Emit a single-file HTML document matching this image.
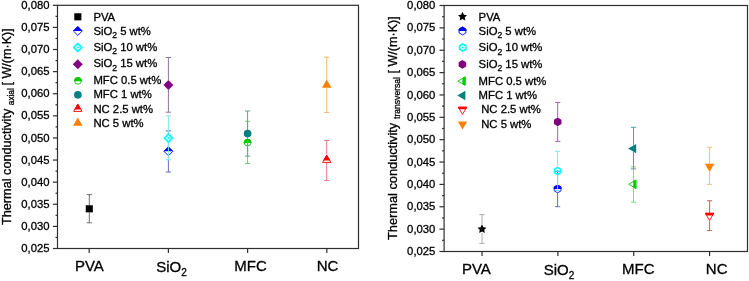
<!DOCTYPE html>
<html><head><meta charset="utf-8"><style>
html,body{margin:0;padding:0;background:#fff;}
svg{display:block;will-change:transform;filter:blur(0.35px);}
text{font-family:"Liberation Sans", sans-serif;fill:#000;stroke:#000;stroke-width:0.3px;}
</style></head><body>
<svg width="749" height="281" viewBox="0 0 749 281">
<rect width="749" height="281" fill="#fff"/>
<rect x="57.5" y="5.3" width="301.0" height="243.2" fill="none" stroke="#2e2e2e" stroke-width="1.2"/>
<line x1="52.9" y1="248.50" x2="57.5" y2="248.50" stroke="#2e2e2e" stroke-width="1.2"/>
<text x="49.6" y="252.10" text-anchor="end" font-size="11.6" textLength="28.3" lengthAdjust="spacingAndGlyphs">0,025</text>
<line x1="55.5" y1="237.45" x2="57.5" y2="237.45" stroke="#2e2e2e" stroke-width="1.2"/>
<line x1="52.9" y1="226.39" x2="57.5" y2="226.39" stroke="#2e2e2e" stroke-width="1.2"/>
<text x="49.6" y="229.99" text-anchor="end" font-size="11.6" textLength="28.3" lengthAdjust="spacingAndGlyphs">0,030</text>
<line x1="55.5" y1="215.34" x2="57.5" y2="215.34" stroke="#2e2e2e" stroke-width="1.2"/>
<line x1="52.9" y1="204.28" x2="57.5" y2="204.28" stroke="#2e2e2e" stroke-width="1.2"/>
<text x="49.6" y="207.88" text-anchor="end" font-size="11.6" textLength="28.3" lengthAdjust="spacingAndGlyphs">0,035</text>
<line x1="55.5" y1="193.23" x2="57.5" y2="193.23" stroke="#2e2e2e" stroke-width="1.2"/>
<line x1="52.9" y1="182.17" x2="57.5" y2="182.17" stroke="#2e2e2e" stroke-width="1.2"/>
<text x="49.6" y="185.77" text-anchor="end" font-size="11.6" textLength="28.3" lengthAdjust="spacingAndGlyphs">0,040</text>
<line x1="55.5" y1="171.12" x2="57.5" y2="171.12" stroke="#2e2e2e" stroke-width="1.2"/>
<line x1="52.9" y1="160.06" x2="57.5" y2="160.06" stroke="#2e2e2e" stroke-width="1.2"/>
<text x="49.6" y="163.66" text-anchor="end" font-size="11.6" textLength="28.3" lengthAdjust="spacingAndGlyphs">0,045</text>
<line x1="55.5" y1="149.01" x2="57.5" y2="149.01" stroke="#2e2e2e" stroke-width="1.2"/>
<line x1="52.9" y1="137.95" x2="57.5" y2="137.95" stroke="#2e2e2e" stroke-width="1.2"/>
<text x="49.6" y="141.55" text-anchor="end" font-size="11.6" textLength="28.3" lengthAdjust="spacingAndGlyphs">0,050</text>
<line x1="55.5" y1="126.90" x2="57.5" y2="126.90" stroke="#2e2e2e" stroke-width="1.2"/>
<line x1="52.9" y1="115.85" x2="57.5" y2="115.85" stroke="#2e2e2e" stroke-width="1.2"/>
<text x="49.6" y="119.45" text-anchor="end" font-size="11.6" textLength="28.3" lengthAdjust="spacingAndGlyphs">0,055</text>
<line x1="55.5" y1="104.79" x2="57.5" y2="104.79" stroke="#2e2e2e" stroke-width="1.2"/>
<line x1="52.9" y1="93.74" x2="57.5" y2="93.74" stroke="#2e2e2e" stroke-width="1.2"/>
<text x="49.6" y="97.34" text-anchor="end" font-size="11.6" textLength="28.3" lengthAdjust="spacingAndGlyphs">0,060</text>
<line x1="55.5" y1="82.68" x2="57.5" y2="82.68" stroke="#2e2e2e" stroke-width="1.2"/>
<line x1="52.9" y1="71.63" x2="57.5" y2="71.63" stroke="#2e2e2e" stroke-width="1.2"/>
<text x="49.6" y="75.23" text-anchor="end" font-size="11.6" textLength="28.3" lengthAdjust="spacingAndGlyphs">0,065</text>
<line x1="55.5" y1="60.57" x2="57.5" y2="60.57" stroke="#2e2e2e" stroke-width="1.2"/>
<line x1="52.9" y1="49.52" x2="57.5" y2="49.52" stroke="#2e2e2e" stroke-width="1.2"/>
<text x="49.6" y="53.12" text-anchor="end" font-size="11.6" textLength="28.3" lengthAdjust="spacingAndGlyphs">0,070</text>
<line x1="55.5" y1="38.46" x2="57.5" y2="38.46" stroke="#2e2e2e" stroke-width="1.2"/>
<line x1="52.9" y1="27.41" x2="57.5" y2="27.41" stroke="#2e2e2e" stroke-width="1.2"/>
<text x="49.6" y="31.01" text-anchor="end" font-size="11.6" textLength="28.3" lengthAdjust="spacingAndGlyphs">0,075</text>
<line x1="55.5" y1="16.35" x2="57.5" y2="16.35" stroke="#2e2e2e" stroke-width="1.2"/>
<line x1="52.9" y1="5.30" x2="57.5" y2="5.30" stroke="#2e2e2e" stroke-width="1.2"/>
<text x="49.6" y="8.90" text-anchor="end" font-size="11.6" textLength="28.3" lengthAdjust="spacingAndGlyphs">0,080</text>
<line x1="89.18" y1="248.5" x2="89.18" y2="253.1" stroke="#2e2e2e" stroke-width="1.2"/>
<line x1="168.39" y1="248.5" x2="168.39" y2="253.1" stroke="#2e2e2e" stroke-width="1.2"/>
<line x1="247.61" y1="248.5" x2="247.61" y2="253.1" stroke="#2e2e2e" stroke-width="1.2"/>
<line x1="326.82" y1="248.5" x2="326.82" y2="253.1" stroke="#2e2e2e" stroke-width="1.2"/>
<rect x="444.1" y="5.5" width="303.4" height="246.0" fill="none" stroke="#2e2e2e" stroke-width="1.2"/>
<line x1="439.5" y1="251.50" x2="444.1" y2="251.50" stroke="#2e2e2e" stroke-width="1.2"/>
<text x="435.4" y="255.10" text-anchor="end" font-size="11.6" textLength="28.3" lengthAdjust="spacingAndGlyphs">0,025</text>
<line x1="442.1" y1="240.32" x2="444.1" y2="240.32" stroke="#2e2e2e" stroke-width="1.2"/>
<line x1="439.5" y1="229.14" x2="444.1" y2="229.14" stroke="#2e2e2e" stroke-width="1.2"/>
<text x="435.4" y="232.74" text-anchor="end" font-size="11.6" textLength="28.3" lengthAdjust="spacingAndGlyphs">0,030</text>
<line x1="442.1" y1="217.95" x2="444.1" y2="217.95" stroke="#2e2e2e" stroke-width="1.2"/>
<line x1="439.5" y1="206.77" x2="444.1" y2="206.77" stroke="#2e2e2e" stroke-width="1.2"/>
<text x="435.4" y="210.37" text-anchor="end" font-size="11.6" textLength="28.3" lengthAdjust="spacingAndGlyphs">0,035</text>
<line x1="442.1" y1="195.59" x2="444.1" y2="195.59" stroke="#2e2e2e" stroke-width="1.2"/>
<line x1="439.5" y1="184.41" x2="444.1" y2="184.41" stroke="#2e2e2e" stroke-width="1.2"/>
<text x="435.4" y="188.01" text-anchor="end" font-size="11.6" textLength="28.3" lengthAdjust="spacingAndGlyphs">0,040</text>
<line x1="442.1" y1="173.23" x2="444.1" y2="173.23" stroke="#2e2e2e" stroke-width="1.2"/>
<line x1="439.5" y1="162.05" x2="444.1" y2="162.05" stroke="#2e2e2e" stroke-width="1.2"/>
<text x="435.4" y="165.65" text-anchor="end" font-size="11.6" textLength="28.3" lengthAdjust="spacingAndGlyphs">0,045</text>
<line x1="442.1" y1="150.86" x2="444.1" y2="150.86" stroke="#2e2e2e" stroke-width="1.2"/>
<line x1="439.5" y1="139.68" x2="444.1" y2="139.68" stroke="#2e2e2e" stroke-width="1.2"/>
<text x="435.4" y="143.28" text-anchor="end" font-size="11.6" textLength="28.3" lengthAdjust="spacingAndGlyphs">0,050</text>
<line x1="442.1" y1="128.50" x2="444.1" y2="128.50" stroke="#2e2e2e" stroke-width="1.2"/>
<line x1="439.5" y1="117.32" x2="444.1" y2="117.32" stroke="#2e2e2e" stroke-width="1.2"/>
<text x="435.4" y="120.92" text-anchor="end" font-size="11.6" textLength="28.3" lengthAdjust="spacingAndGlyphs">0,055</text>
<line x1="442.1" y1="106.14" x2="444.1" y2="106.14" stroke="#2e2e2e" stroke-width="1.2"/>
<line x1="439.5" y1="94.95" x2="444.1" y2="94.95" stroke="#2e2e2e" stroke-width="1.2"/>
<text x="435.4" y="98.55" text-anchor="end" font-size="11.6" textLength="28.3" lengthAdjust="spacingAndGlyphs">0,060</text>
<line x1="442.1" y1="83.77" x2="444.1" y2="83.77" stroke="#2e2e2e" stroke-width="1.2"/>
<line x1="439.5" y1="72.59" x2="444.1" y2="72.59" stroke="#2e2e2e" stroke-width="1.2"/>
<text x="435.4" y="76.19" text-anchor="end" font-size="11.6" textLength="28.3" lengthAdjust="spacingAndGlyphs">0,065</text>
<line x1="442.1" y1="61.41" x2="444.1" y2="61.41" stroke="#2e2e2e" stroke-width="1.2"/>
<line x1="439.5" y1="50.23" x2="444.1" y2="50.23" stroke="#2e2e2e" stroke-width="1.2"/>
<text x="435.4" y="53.83" text-anchor="end" font-size="11.6" textLength="28.3" lengthAdjust="spacingAndGlyphs">0,070</text>
<line x1="442.1" y1="39.05" x2="444.1" y2="39.05" stroke="#2e2e2e" stroke-width="1.2"/>
<line x1="439.5" y1="27.86" x2="444.1" y2="27.86" stroke="#2e2e2e" stroke-width="1.2"/>
<text x="435.4" y="31.46" text-anchor="end" font-size="11.6" textLength="28.3" lengthAdjust="spacingAndGlyphs">0,075</text>
<line x1="442.1" y1="16.68" x2="444.1" y2="16.68" stroke="#2e2e2e" stroke-width="1.2"/>
<line x1="439.5" y1="5.50" x2="444.1" y2="5.50" stroke="#2e2e2e" stroke-width="1.2"/>
<text x="435.4" y="9.10" text-anchor="end" font-size="11.6" textLength="28.3" lengthAdjust="spacingAndGlyphs">0,080</text>
<line x1="482.03" y1="251.5" x2="482.03" y2="256.1" stroke="#2e2e2e" stroke-width="1.2"/>
<line x1="557.88" y1="251.5" x2="557.88" y2="256.1" stroke="#2e2e2e" stroke-width="1.2"/>
<line x1="633.73" y1="251.5" x2="633.73" y2="256.1" stroke="#2e2e2e" stroke-width="1.2"/>
<line x1="709.58" y1="251.5" x2="709.58" y2="256.1" stroke="#2e2e2e" stroke-width="1.2"/>
<text x="74.95" y="270.9" font-size="15.0">PVA</text>
<text x="156.25" y="272.20" font-size="15.0">SiO<tspan font-size="10" dy="3.4">2</tspan></text>
<text x="234.3" y="270.9" font-size="15.0">MFC</text>
<text x="316.75" y="270.9" font-size="15.0">NC</text>
<text x="461.95" y="273.9" font-size="15.0">PVA</text>
<text x="543.65" y="275.20" font-size="15.0">SiO<tspan font-size="10" dy="3.4">2</tspan></text>
<text x="622.0" y="273.9" font-size="15.0">MFC</text>
<text x="705.85" y="273.9" font-size="15.0">NC</text>
<text transform="translate(10.6,225.0) rotate(-90)" font-size="12.7" textLength="116.3" lengthAdjust="spacingAndGlyphs">Thermal conductivity</text>
<text transform="translate(14.0,105.2) rotate(-90)" font-size="8.4" textLength="17.0" lengthAdjust="spacingAndGlyphs">axial</text>
<text transform="translate(10.6,85.5) rotate(-90)" font-size="12.5" textLength="57.3" lengthAdjust="spacingAndGlyphs">[ W/(m·K)]</text>
<text transform="translate(396.6,240.0) rotate(-90)" font-size="12.7" textLength="117.2" lengthAdjust="spacingAndGlyphs">Thermal conductivity</text>
<text transform="translate(399.9,119.0) rotate(-90)" font-size="8.4" textLength="42.0" lengthAdjust="spacingAndGlyphs">transversal</text>
<text transform="translate(396.6,73.5) rotate(-90)" font-size="12.5" textLength="57.3" lengthAdjust="spacingAndGlyphs">[ W/(m·K)]</text>
<line x1="89.30" y1="194.60" x2="89.30" y2="205.25" stroke="#707070" stroke-width="1"/>
<line x1="89.30" y1="212.35" x2="89.30" y2="222.80" stroke="#707070" stroke-width="1"/>
<line x1="86.70" y1="194.60" x2="91.90" y2="194.60" stroke="#707070" stroke-width="1"/>
<line x1="86.70" y1="222.80" x2="91.90" y2="222.80" stroke="#707070" stroke-width="1"/>
<rect x="85.75" y="205.25" width="7.10" height="7.10" fill="#000000"/>
<line x1="168.40" y1="130.80" x2="168.40" y2="146.35" stroke="#6a6ac8" stroke-width="1"/>
<line x1="168.40" y1="156.25" x2="168.40" y2="172.00" stroke="#6a6ac8" stroke-width="1"/>
<line x1="165.80" y1="130.80" x2="171.00" y2="130.80" stroke="#6a6ac8" stroke-width="1"/>
<line x1="165.80" y1="172.00" x2="171.00" y2="172.00" stroke="#6a6ac8" stroke-width="1"/>
<clipPath id="c1"><rect x="158.40" y="141.30" width="20" height="10.00"/></clipPath>
<polygon points="168.40,146.89 172.81,151.30 168.40,155.71 163.99,151.30" fill="none" stroke="#0000ff" stroke-width="0.9"/>
<g clip-path="url(#c1)">
<polygon points="168.40,146.89 172.81,151.30 168.40,155.71 163.99,151.30" fill="#0000ff" stroke="#0000ff" stroke-width="0.9"/>
</g>
<line x1="168.40" y1="115.90" x2="168.40" y2="133.15" stroke="#80e8f0" stroke-width="1"/>
<line x1="168.40" y1="143.05" x2="168.40" y2="159.80" stroke="#80e8f0" stroke-width="1"/>
<line x1="165.80" y1="115.90" x2="171.00" y2="115.90" stroke="#80e8f0" stroke-width="1"/>
<line x1="165.80" y1="159.80" x2="171.00" y2="159.80" stroke="#80e8f0" stroke-width="1"/>
<polygon points="168.40,134.17 172.33,138.10 168.40,142.03 164.47,138.10" fill="#fff" stroke="#00ffff" stroke-width="1.7"/>
<circle cx="168.40" cy="138.10" r="1.1" fill="#00ffff"/>
<line x1="168.40" y1="57.50" x2="168.40" y2="80.05" stroke="#9070a0" stroke-width="1"/>
<line x1="168.40" y1="89.95" x2="168.40" y2="112.20" stroke="#9070a0" stroke-width="1"/>
<line x1="165.80" y1="57.50" x2="171.00" y2="57.50" stroke="#9070a0" stroke-width="1"/>
<line x1="165.80" y1="112.20" x2="171.00" y2="112.20" stroke="#9070a0" stroke-width="1"/>
<polygon points="168.40,80.05 173.35,85.00 168.40,89.95 163.45,85.00" fill="#800080"/>
<line x1="247.60" y1="121.30" x2="247.60" y2="138.75" stroke="#70d070" stroke-width="1"/>
<line x1="247.60" y1="146.45" x2="247.60" y2="163.50" stroke="#70d070" stroke-width="1"/>
<line x1="245.00" y1="121.30" x2="250.20" y2="121.30" stroke="#70d070" stroke-width="1"/>
<line x1="245.00" y1="163.50" x2="250.20" y2="163.50" stroke="#70d070" stroke-width="1"/>
<clipPath id="c2"><rect x="237.60" y="132.60" width="20" height="10.40"/></clipPath>
<circle cx="247.60" cy="142.60" r="3.40" fill="none" stroke="#00cc00" stroke-width="0.9"/>
<g clip-path="url(#c2)">
<circle cx="247.60" cy="142.60" r="3.40" fill="#00cc00" stroke="#00cc00" stroke-width="0.9"/>
</g>
<line x1="247.60" y1="111.00" x2="247.60" y2="129.75" stroke="#6a9a9a" stroke-width="1"/>
<line x1="247.60" y1="137.45" x2="247.60" y2="156.10" stroke="#6a9a9a" stroke-width="1"/>
<line x1="245.00" y1="111.00" x2="250.20" y2="111.00" stroke="#6a9a9a" stroke-width="1"/>
<line x1="245.00" y1="156.10" x2="250.20" y2="156.10" stroke="#6a9a9a" stroke-width="1"/>
<circle cx="247.60" cy="133.60" r="3.85" fill="#008080"/>
<line x1="326.70" y1="140.50" x2="326.70" y2="154.60" stroke="#e87880" stroke-width="1"/>
<line x1="326.70" y1="162.70" x2="326.70" y2="180.50" stroke="#e87880" stroke-width="1"/>
<line x1="324.10" y1="140.50" x2="329.30" y2="140.50" stroke="#e87880" stroke-width="1"/>
<line x1="324.10" y1="180.50" x2="329.30" y2="180.50" stroke="#e87880" stroke-width="1"/>
<clipPath id="c3"><rect x="316.70" y="150.00" width="20" height="10.60"/></clipPath>
<polygon points="326.70,155.19 330.87,162.41 322.53,162.41" fill="none" stroke="#ff0000" stroke-width="0.9"/>
<g clip-path="url(#c3)">
<polygon points="326.70,155.19 330.87,162.41 322.53,162.41" fill="#ff0000" stroke="#ff0000" stroke-width="0.9"/>
</g>
<line x1="326.70" y1="57.20" x2="326.70" y2="79.60" stroke="#f8b878" stroke-width="1"/>
<line x1="326.70" y1="87.70" x2="326.70" y2="112.50" stroke="#f8b878" stroke-width="1"/>
<line x1="324.10" y1="57.20" x2="329.30" y2="57.20" stroke="#f8b878" stroke-width="1"/>
<line x1="324.10" y1="112.50" x2="329.30" y2="112.50" stroke="#f8b878" stroke-width="1"/>
<polygon points="326.70,79.60 331.38,87.70 322.02,87.70" fill="#ff8000"/>
<line x1="482.00" y1="214.60" x2="482.00" y2="224.35" stroke="#aaaaaa" stroke-width="1"/>
<line x1="482.00" y1="232.95" x2="482.00" y2="243.40" stroke="#aaaaaa" stroke-width="1"/>
<line x1="479.40" y1="214.60" x2="484.60" y2="214.60" stroke="#aaaaaa" stroke-width="1"/>
<line x1="479.40" y1="243.40" x2="484.60" y2="243.40" stroke="#aaaaaa" stroke-width="1"/>
<polygon points="482.00,224.35 483.40,227.18 486.52,227.63 484.26,229.83 484.79,232.94 482.00,231.47 479.21,232.94 479.74,229.83 477.48,227.63 480.60,227.18" fill="#000000"/>
<line x1="557.60" y1="171.30" x2="557.60" y2="184.55" stroke="#6a6ac8" stroke-width="1"/>
<line x1="557.60" y1="193.25" x2="557.60" y2="206.70" stroke="#6a6ac8" stroke-width="1"/>
<line x1="555.00" y1="171.30" x2="560.20" y2="171.30" stroke="#6a6ac8" stroke-width="1"/>
<line x1="555.00" y1="206.70" x2="560.20" y2="206.70" stroke="#6a6ac8" stroke-width="1"/>
<clipPath id="c4"><rect x="547.60" y="178.90" width="20" height="10.00"/></clipPath>
<polygon points="557.60,185.00 560.98,186.95 560.98,190.85 557.60,192.80 554.22,190.85 554.22,186.95" fill="none" stroke="#0000ff" stroke-width="0.9"/>
<g clip-path="url(#c4)">
<polygon points="557.60,185.00 560.98,186.95 560.98,190.85 557.60,192.80 554.22,190.85 554.22,186.95" fill="#0000ff" stroke="#0000ff" stroke-width="0.9"/>
</g>
<line x1="557.60" y1="151.30" x2="557.60" y2="166.65" stroke="#80e8f0" stroke-width="1"/>
<line x1="557.60" y1="175.35" x2="557.60" y2="190.60" stroke="#80e8f0" stroke-width="1"/>
<line x1="555.00" y1="151.30" x2="560.20" y2="151.30" stroke="#80e8f0" stroke-width="1"/>
<line x1="555.00" y1="190.60" x2="560.20" y2="190.60" stroke="#80e8f0" stroke-width="1"/>
<polygon points="557.60,167.50 560.63,169.25 560.63,172.75 557.60,174.50 554.57,172.75 554.57,169.25" fill="none" stroke="#00ffff" stroke-width="1.7"/>
<circle cx="557.60" cy="171.00" r="1.1" fill="#00ffff"/>
<line x1="557.70" y1="102.40" x2="557.70" y2="117.55" stroke="#a860b8" stroke-width="1"/>
<line x1="557.70" y1="126.25" x2="557.70" y2="141.40" stroke="#a860b8" stroke-width="1"/>
<line x1="555.10" y1="102.40" x2="560.30" y2="102.40" stroke="#a860b8" stroke-width="1"/>
<line x1="555.10" y1="141.40" x2="560.30" y2="141.40" stroke="#a860b8" stroke-width="1"/>
<polygon points="557.70,117.55 561.47,119.73 561.47,124.08 557.70,126.25 553.93,124.08 553.93,119.73" fill="#800080"/>
<line x1="633.50" y1="166.80" x2="633.50" y2="181.20" stroke="#80d880" stroke-width="1"/>
<line x1="633.50" y1="187.40" x2="633.50" y2="202.20" stroke="#80d880" stroke-width="1"/>
<line x1="630.90" y1="166.80" x2="636.10" y2="166.80" stroke="#80d880" stroke-width="1"/>
<line x1="630.90" y1="202.20" x2="636.10" y2="202.20" stroke="#80d880" stroke-width="1"/>
<clipPath id="c5"><rect x="633.20" y="174.30" width="12" height="20"/></clipPath>
<polygon points="628.69,184.30 635.91,180.13 635.91,188.47" fill="none" stroke="#00cc00" stroke-width="0.9"/>
<g clip-path="url(#c5)">
<polygon points="628.69,184.30 635.91,180.13 635.91,188.47" fill="#00cc00" stroke="#00cc00" stroke-width="0.9"/>
</g>
<line x1="633.50" y1="127.30" x2="633.50" y2="145.50" stroke="#5a9a9a" stroke-width="1"/>
<line x1="633.50" y1="151.70" x2="633.50" y2="168.90" stroke="#5a9a9a" stroke-width="1"/>
<line x1="630.90" y1="127.30" x2="636.10" y2="127.30" stroke="#5a9a9a" stroke-width="1"/>
<line x1="630.90" y1="168.90" x2="636.10" y2="168.90" stroke="#5a9a9a" stroke-width="1"/>
<polygon points="628.10,148.60 636.20,143.92 636.20,153.28" fill="#008080"/>
<line x1="709.60" y1="200.80" x2="709.60" y2="213.00" stroke="#c86060" stroke-width="1"/>
<line x1="709.60" y1="221.10" x2="709.60" y2="230.60" stroke="#c86060" stroke-width="1"/>
<line x1="707.00" y1="200.80" x2="712.20" y2="200.80" stroke="#c86060" stroke-width="1"/>
<line x1="707.00" y1="230.60" x2="712.20" y2="230.60" stroke="#c86060" stroke-width="1"/>
<clipPath id="c6"><rect x="699.60" y="205.70" width="20" height="9.70"/></clipPath>
<polygon points="709.60,220.51 705.43,213.29 713.77,213.29" fill="none" stroke="#ff0000" stroke-width="0.9"/>
<g clip-path="url(#c6)">
<polygon points="709.60,220.51 705.43,213.29 713.77,213.29" fill="#ff0000" stroke="#ff0000" stroke-width="0.9"/>
</g>
<line x1="709.60" y1="147.30" x2="709.60" y2="163.80" stroke="#e8c08a" stroke-width="1"/>
<line x1="709.60" y1="171.90" x2="709.60" y2="184.40" stroke="#e8c08a" stroke-width="1"/>
<line x1="707.00" y1="147.30" x2="712.20" y2="147.30" stroke="#e8c08a" stroke-width="1"/>
<line x1="707.00" y1="184.40" x2="712.20" y2="184.40" stroke="#e8c08a" stroke-width="1"/>
<polygon points="709.60,171.90 704.92,163.80 714.28,163.80" fill="#ff8000"/>
<rect x="74.30" y="13.25" width="7.10" height="7.10" fill="#000000"/>
<text x="93.4" y="20.70" font-size="11.3">PVA</text>
<clipPath id="c7"><rect x="67.80" y="21.00" width="20" height="10.00"/></clipPath>
<polygon points="77.80,26.59 82.21,31.00 77.80,35.41 73.39,31.00" fill="none" stroke="#0000ff" stroke-width="0.9"/>
<g clip-path="url(#c7)">
<polygon points="77.80,26.59 82.21,31.00 77.80,35.41 73.39,31.00" fill="#0000ff" stroke="#0000ff" stroke-width="0.9"/>
</g>
<text x="93.4" y="34.60" font-size="11.3">SiO<tspan font-size="8.6" dy="3.5">2</tspan><tspan dy="-3.5"> 5 wt%</tspan></text>
<polygon points="77.80,43.57 81.73,47.50 77.80,51.43 73.87,47.50" fill="none" stroke="#00ffff" stroke-width="1.7"/>
<circle cx="77.80" cy="47.50" r="1.1" fill="#00ffff"/>
<text x="93.4" y="50.50" font-size="11.3">SiO<tspan font-size="8.6" dy="3.5">2</tspan><tspan dy="-3.5"> 10 wt%</tspan></text>
<polygon points="77.80,59.25 82.75,64.20 77.80,69.15 72.85,64.20" fill="#800080"/>
<text x="93.4" y="67.10" font-size="11.3">SiO<tspan font-size="8.6" dy="3.5">2</tspan><tspan dy="-3.5"> 15 wt%</tspan></text>
<clipPath id="c8"><rect x="68.00" y="70.80" width="20" height="10.40"/></clipPath>
<circle cx="78.00" cy="80.80" r="3.40" fill="none" stroke="#00cc00" stroke-width="0.9"/>
<g clip-path="url(#c8)">
<circle cx="78.00" cy="80.80" r="3.40" fill="#00cc00" stroke="#00cc00" stroke-width="0.9"/>
</g>
<text x="93.4" y="84.40" font-size="11.3">MFC 0.5 wt%</text>
<circle cx="77.85" cy="94.85" r="3.85" fill="#008080"/>
<text x="93.4" y="98.40" font-size="11.3">MFC 1 wt%</text>
<clipPath id="c9"><rect x="67.80" y="99.00" width="20" height="10.60"/></clipPath>
<polygon points="77.80,104.18 81.97,111.41 73.63,111.41" fill="none" stroke="#ff0000" stroke-width="0.9"/>
<g clip-path="url(#c9)">
<polygon points="77.80,104.18 81.97,111.41 73.63,111.41" fill="#ff0000" stroke="#ff0000" stroke-width="0.9"/>
</g>
<text x="93.4" y="112.80" font-size="11.3">NC 2.5 wt%</text>
<polygon points="77.80,117.60 82.48,125.70 73.12,125.70" fill="#ff8000"/>
<text x="93.4" y="126.80" font-size="11.3">NC 5 wt%</text>
<polygon points="462.50,11.85 463.90,14.68 467.02,15.13 464.76,17.33 465.29,20.44 462.50,18.98 459.71,20.44 460.24,17.33 457.98,15.13 461.10,14.68" fill="#000000"/>
<text x="478.6" y="20.50" font-size="11.3">PVA</text>
<clipPath id="c10"><rect x="452.50" y="21.00" width="20" height="10.00"/></clipPath>
<polygon points="462.50,27.10 465.88,29.05 465.88,32.95 462.50,34.90 459.12,32.95 459.12,29.05" fill="none" stroke="#0000ff" stroke-width="0.9"/>
<g clip-path="url(#c10)">
<polygon points="462.50,27.10 465.88,29.05 465.88,32.95 462.50,34.90 459.12,32.95 459.12,29.05" fill="#0000ff" stroke="#0000ff" stroke-width="0.9"/>
</g>
<text x="478.6" y="34.90" font-size="11.3">SiO<tspan font-size="8.6" dy="3.5">2</tspan><tspan dy="-3.5"> 5 wt%</tspan></text>
<polygon points="462.70,44.00 465.73,45.75 465.73,49.25 462.70,51.00 459.67,49.25 459.67,45.75" fill="none" stroke="#00ffff" stroke-width="1.7"/>
<circle cx="462.70" cy="47.50" r="1.1" fill="#00ffff"/>
<text x="478.6" y="51.00" font-size="11.3">SiO<tspan font-size="8.6" dy="3.5">2</tspan><tspan dy="-3.5"> 10 wt%</tspan></text>
<polygon points="462.40,60.05 466.17,62.23 466.17,66.58 462.40,68.75 458.63,66.58 458.63,62.23" fill="#800080"/>
<text x="478.6" y="67.60" font-size="11.3">SiO<tspan font-size="8.6" dy="3.5">2</tspan><tspan dy="-3.5"> 15 wt%</tspan></text>
<clipPath id="c11"><rect x="462.40" y="71.10" width="12" height="20"/></clipPath>
<polygon points="457.88,81.10 465.11,76.93 465.11,85.27" fill="none" stroke="#00cc00" stroke-width="0.9"/>
<g clip-path="url(#c11)">
<polygon points="457.88,81.10 465.11,76.93 465.11,85.27" fill="#00cc00" stroke="#00cc00" stroke-width="0.9"/>
</g>
<text x="478.6" y="84.80" font-size="11.3">MFC 0.5 wt%</text>
<polygon points="457.30,95.50 465.40,90.82 465.40,100.18" fill="#008080"/>
<text x="478.6" y="98.70" font-size="11.3">MFC 1 wt%</text>
<clipPath id="c12"><rect x="452.50" y="99.60" width="20" height="9.70"/></clipPath>
<polygon points="462.50,114.42 458.33,107.19 466.67,107.19" fill="none" stroke="#ff0000" stroke-width="0.9"/>
<g clip-path="url(#c12)">
<polygon points="462.50,114.42 458.33,107.19 466.67,107.19" fill="#ff0000" stroke="#ff0000" stroke-width="0.9"/>
</g>
<text x="481.2" y="113.20" font-size="11.3">NC 2.5 wt%</text>
<polygon points="462.50,129.60 457.82,121.50 467.18,121.50" fill="#ff8000"/>
<text x="481.2" y="127.60" font-size="11.3">NC 5 wt%</text>
</svg>
</body></html>
